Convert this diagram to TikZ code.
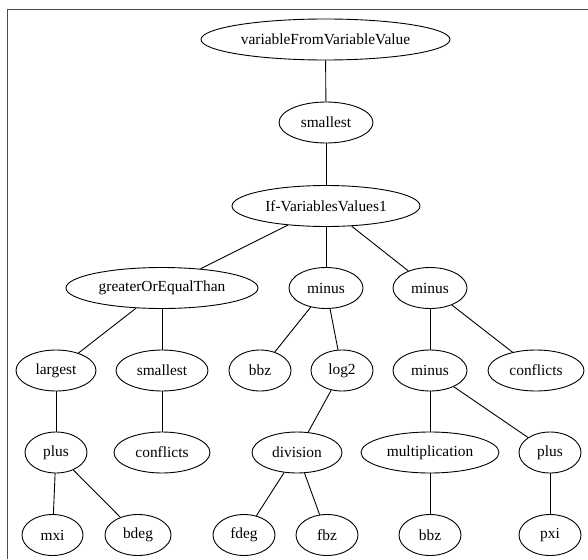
\documentclass[tikz,border=0pt]{standalone}
\usepackage{fontspec}
\setmainfont{Liberation Serif}
\usetikzlibrary{shapes.geometric}
\tikzset{
  nd/.style={ellipse, draw=black, line width=0.9pt, inner sep=0pt,
    minimum height=41pt, minimum width=#1, font=\fontsize{15.4}{18}\selectfont},
  edge/.style={draw=black, line width=0.9pt},
  frame/.style={draw=black!70, line width=1.3pt}
}
\begin{document}
\begin{tikzpicture}[x=1pt,y=-1pt]
\useasboundingbox (0,0) rectangle (588,559);
\coordinate (fa) at (7.5,559);
\coordinate (fb) at (7.5,9.5);
\coordinate (fc) at (588,9.5);
\draw[frame] (fa) -- (fb) -- (fc);
% row 1-3
\node[nd=249pt] (r1) at (325.5,39.5) {variableFromVariableValue};
\node[nd=94pt] (r2) at (326,122.5) {smallest};
\node[nd=188pt] (r3) at (326,206) {If-VariablesValues1};
% row 4
\node[nd=192pt] (goe) at (162,288) {greaterOrEqualThan};
\node[nd=74pt] (mA) at (326,288) {minus};
\node[nd=74pt] (mB) at (430,288) {minus};
% row 5
\node[nd=80pt] (lg) at (56,370.5) {largest};
\node[nd=92pt] (sm) at (162,370.5) {smallest};
\node[nd=62pt] (bz1) at (260,370.5) {bbz};
\node[nd=62pt] (l2) at (342,370.5) {log2};
\node[nd=74pt] (mC) at (430,370.5) {minus};
\node[nd=96pt] (cf1) at (536,370.5) {conflicts};
% row 6
\node[nd=62pt] (p1) at (56,452.5) {plus};
\node[nd=96pt] (cf2) at (162,452.5) {conflicts};
\node[nd=90pt] (dv) at (297,452.5) {division};
\node[nd=138pt] (mu) at (430,452.5) {multiplication};
\node[nd=62pt] (p2) at (550,452.5) {plus};
% row 7
\node[nd=61pt] (mx) at (52.5,535) {mxi};
\node[nd=66pt] (bd) at (138,535) {bdeg};
\node[nd=62pt] (fd) at (244,535) {fdeg};
\node[nd=62pt] (fb2) at (327,535) {fbz};
\node[nd=62pt] (bz2) at (430,535) {bbz};
\node[nd=62pt] (px) at (550,535) {pxi};
% edges
\draw[edge] (r1) -- (r2);
\draw[edge] (r2) -- (r3);
\draw[edge] (r3) -- (goe);
\draw[edge] (r3) -- (mA);
\draw[edge] (r3) -- (mB);
\draw[edge] (goe) -- (lg);
\draw[edge] (goe) -- (sm);
\draw[edge] (mA) -- (bz1);
\draw[edge] (mA) -- (l2);
\draw[edge] (mB) -- (mC);
\draw[edge] (mB) -- (cf1);
\draw[edge] (lg) -- (p1);
\draw[edge] (sm) -- (cf2);
\draw[edge] (l2) -- (dv);
\draw[edge] (mC) -- (mu);
\draw[edge] (mC) -- (p2);
\draw[edge] (p1) -- (mx);
\draw[edge] (p1) -- (bd);
\draw[edge] (dv) -- (fd);
\draw[edge] (dv) -- (fb2);
\draw[edge] (mu) -- (bz2);
\draw[edge] (p2) -- (px);
\end{tikzpicture}
\end{document}
